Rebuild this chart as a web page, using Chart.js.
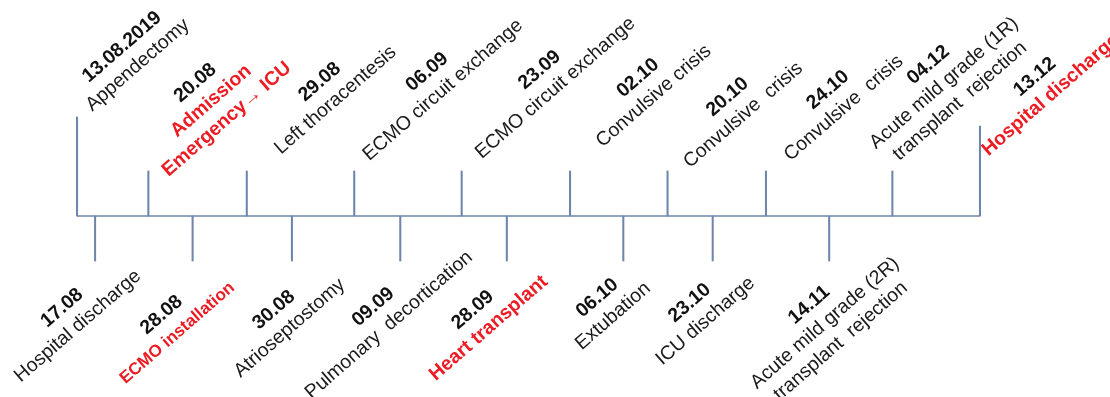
<!DOCTYPE html>
<html>
<head>
<meta charset="utf-8">
<title>Timeline</title>
<script src="https://cdn.jsdelivr.net/npm/chart.js@4/dist/chart.umd.min.js"></script>
<style>
    html, body { margin: 0; padding: 0; background: #ffffff; }
    #timeline-chart { display: block; }
</style>
</head>
<body>
<canvas id="timeline-chart" width="1110" height="397"></canvas>
<script>
// Timeline data
// ------------------------------
var eventDates = ["13.08.2019", "17.08", "20.08", "28.08", "29.08", "30.08", "06.09", "09.09", "23.09",
    "28.09", "02.10", "06.10", "20.10", "23.10", "24.10", "14.11", "04.12", "13.12"];

var eventText = [
    ["Appendectomy"],
    ["Hospital discharge"],
    ["Admission", "Emergency\u2192 ICU"],
    ["ECMO installation"],
    ["Left thoracentesis"],
    ["Atrioseptostomy"],
    ["ECMO circuit exchange"],
    ["Pulmonary  decortication"],
    ["ECMO circuit exchange"],
    ["Heart transplant"],
    ["Convulsive crisis"],
    ["Extubation"],
    ["Convulsive  crisis"],
    ["ICU discharge"],
    ["Convulsive  crisis"],
    ["Acute mild grade (2R)", "transplant  rejection"],
    ["Acute mild grade (1R)", "transplant  rejection"],
    ["Hospital discharge"]
];

// key events are written in red
var keyEvent = [false, false, true, true, false, false, false, false, false,
    true, false, false, false, false, false, false, false, true];

// place of each event along the (schematic, not to scale) time line
var eventPlace = [0, 2.0, 7.9, 12.8, 18.8, 23.8, 30.7, 35.8, 42.6,
    47.6, 54.6, 60.5, 65.4, 70.4, 76.3, 83.3, 90.3, 100];

// stem length, above (+) or below (-) the line
var stemLength = [2.2, -1, 1, -1, 1, -1, 1, -1, 1,
    -1, 1, -1, 1, -1, 1, -1, 1, 2.0];

window.addEventListener("load", function(){

    var lineColor = "#6f86ac";
    var red = "#ec1c24";

    // label nudges, date line centre relative to the stem end (px)
    var labelNudge = [[45, -70], [-33, 47], [47, -88], [-31, 54], [73, -89], [-18, 49], [73, -99], [-27, 46],
        [78, -101], [-34, 49], [68, -93], [-26, 37], [60, -74], [-23, 42], [62, -81], [-20, 44], [36, -106], [55, -49]];

    var labelPlugin = {
        id: "timelineLabels",
        afterDatasetsDraw: function(chart){
            var ctx = chart.ctx;
            var xs = chart.scales.x;
            var ys = chart.scales.y;
            var angle = -41 * Math.PI / 180;
            var lineH = 24;
            ctx.save();
            ctx.textAlign = "center";
            ctx.textBaseline = "middle";
            for (var i = 0; i < eventDates.length; i++) {
                var px = xs.getPixelForValue(eventPlace[i]) + labelNudge[i][0];
                var py = ys.getPixelForValue(stemLength[i]) + labelNudge[i][1];
                // the ECMO installation note is set a bit smaller
                var size = (i === 3) ? 17 : 19.5;
                ctx.save();
                ctx.translate(px, py);
                ctx.rotate(angle);
                ctx.fillStyle = "#111111";
                ctx.font = "bold 19.5px 'Liberation Sans', Arial, sans-serif";
                ctx.fillText(eventDates[i], 0, 0);
                for (var k = 0; k < eventText[i].length; k++) {
                    if (keyEvent[i]) {
                        ctx.fillStyle = red;
                        ctx.font = "bold " + size + "px 'Liberation Sans', Arial, sans-serif";
                    } else {
                        ctx.fillStyle = "#1a1a1a";
                        ctx.font = size + "px 'Liberation Sans', Arial, sans-serif";
                    }
                    ctx.fillText(eventText[i][k], 0, (k + 1) * lineH);
                }
                ctx.restore();
            }
            ctx.restore();
        }
    };

    // Chart Data
    var stems = eventPlace.map(function(p, i){ return { x: p, y: [0, stemLength[i]] }; });

    var chartData = {
        datasets: [{
            type: "line",
            label: "time line",
            data: [{ x: eventPlace[0], y: 0 }, { x: eventPlace[eventPlace.length - 1], y: 0 }],
            borderColor: lineColor,
            borderWidth: 1.5,
            pointRadius: 0,
            fill: false
        }, {
            type: "bar",
            label: "events",
            data: stems,
            backgroundColor: lineColor,
            barThickness: 1.4,
            borderWidth: 0
        }]
    };

    // Chart Options
    var chartOptions = {
        responsive: false,
        animation: false,
        devicePixelRatio: 1,
        layout: { padding: 0 },
        plugins: {
            legend: { display: false },
            tooltip: { enabled: false }
        },
        scales: {
            x: { type: "linear", min: -8.53, max: 114.4, offset: false, display: false },
            y: { type: "linear", min: -4.022, max: 4.8, display: false }
        }
    };

    var config = {
        type: "bar",
        data: chartData,
        options: chartOptions,
        plugins: [labelPlugin]
    };

    // Create the chart
    var timelineChart = new Chart(document.getElementById("timeline-chart"), config);
});
</script>
</body>
</html>
